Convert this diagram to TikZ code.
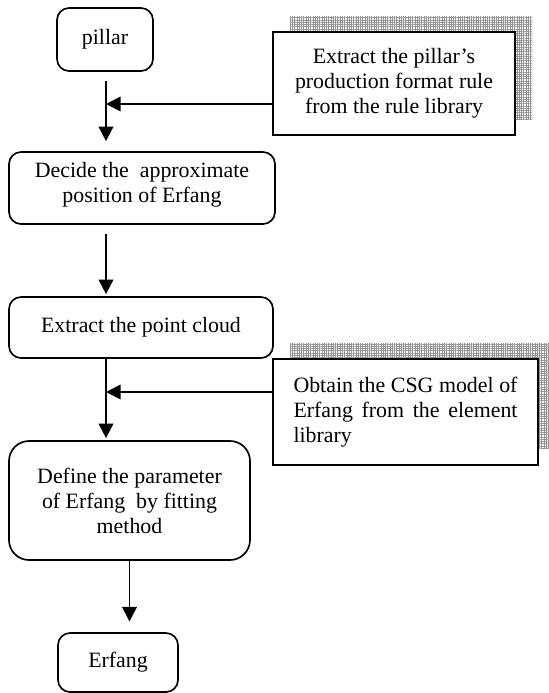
\documentclass[tikz,border=0pt]{standalone}
\usepackage{fontspec}
\setmainfont{Liberation Serif}
\usetikzlibrary{arrows.meta,shadows,patterns.meta}

\tikzset{
  box/.style={draw, line width=1.25pt, fill=white, align=center, inner sep=2pt,
    font=\fontsize{16.4}{18.75}\selectfont},
  rbox/.style={box, rounded corners=9pt},
  sbox/.style={box, general shadow={shadow xshift=12.75pt, shadow yshift=12pt,
    preaction={fill=gray!40}, pattern={Hatch[angle=0,distance=1.7pt,line width=0.4pt]},
    pattern color=gray!85}},
  arr/.style={line width=1.3pt, -{Triangle[length=11pt,width=11pt]}},
}

\begin{document}
\begin{tikzpicture}[x=0.75pt,y=-0.75pt]
    \useasboundingbox (0,0) rectangle (549,693);
    \node[rbox, minimum width=72pt, minimum height=47.25pt] (pillar) at (105,39.5) {pillar};
    \node[sbox, minimum width=181.5pt, minimum height=77.25pt] (rule) at (394,83.5) {Extract the pillar's\\production format rule\\from the rule library};
    \node[rbox, minimum width=199.5pt, minimum height=54pt, text depth=9pt] (decide) at (142,188) {Decide the~ approximate\\position of Erfang};
    \node[rbox, minimum width=198pt, minimum height=45.75pt] (cloud) at (141,327.5) {Extract the point cloud};
    \node[sbox, minimum width=198.75pt, minimum height=79.5pt, text width=168pt, align=justify] (csg) at (405.5,412) {Obtain the CSG model of\linebreak Erfang from the element\linebreak library};
    \node[rbox, rounded corners=15pt, minimum width=180.75pt, minimum height=89.25pt] (define) at (129.5,500.5) {Define the parameter\\of Erfang~ by fitting\\method};
    \node[rbox, minimum width=90pt, minimum height=44.25pt] (erfang) at (118,662.5) {Erfang};
    \coordinate (j1) at (106,104);
    \coordinate (j2) at (106,392);
    \draw[arr, shorten <=6.75pt, shorten >=7.5pt] (pillar.south -| j1) -- (decide.north -| j1);
    \draw[arr] (rule.west |- j1) -- (j1);
    \draw[arr, shorten <=6.75pt, shorten >=1.5pt] (decide.south -| j1) -- (cloud.north -| j1);
    \draw[arr, shorten >=1.5pt] (cloud.south -| j2) -- (define.north -| j2);
    \draw[arr] (csg.west |- j2) -- (j2);
    \draw[arr, shorten >=8pt] (define.south) -- (define.south |- erfang.north);
\end{tikzpicture}
\end{document}
